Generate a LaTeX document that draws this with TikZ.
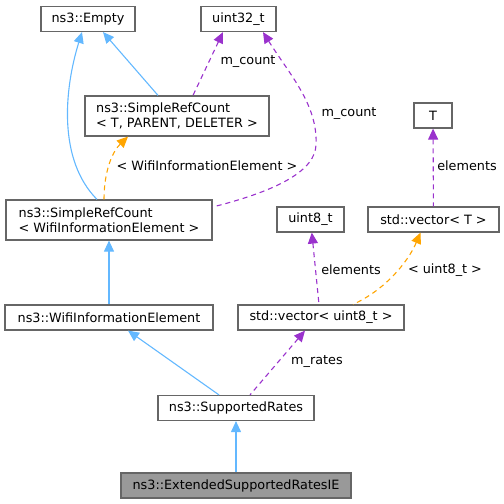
\documentclass[tikz,border=0pt]{standalone}
\usepackage{fontspec}
\setmainfont{DejaVu Sans}
\usetikzlibrary{arrows.meta}
\definecolor{inhblue}{HTML}{63B8FF}
\definecolor{usepurple}{HTML}{9A32CD}
\definecolor{tmplorange}{HTML}{FFA500}
\definecolor{boxgray}{HTML}{666666}
\definecolor{focusgray}{HTML}{999999}

\begin{document}
\begin{tikzpicture}[x=1pt,y=-1pt,
  every node/.style={font=\fontsize{12.8}{15}\selectfont},
  cls/.style={draw=boxgray,fill=white,line width=1.2pt,inner sep=0pt,minimum height=25pt,align=left},
  tip/.style={<-,>={Triangle[length=11pt,width=10pt]}},
  inherit/.style={tip,inhblue,line width=1.1pt},
  member/.style={tip,usepurple,line width=1.1pt,dash pattern=on 5pt off 4pt},
  tmpl/.style={tip,tmplorange,line width=1.1pt,dash pattern=on 5pt off 4pt},
  lbl/.style={text=black}]
\useasboundingbox (0,0) rectangle (504,504);
% classes
\node[cls,minimum width=94pt] (empty) at (88,19) {ns3::Empty};
\node[cls,minimum width=75pt] (uintb) at (238.5,19) {uint32\_t};
\node[cls,minimum width=184pt,minimum height=40pt] (srctpd) at (177,116) {ns3::SimpleRefCount\\< T, PARENT, DELETER >};
\node[cls,minimum width=38pt] (tnode) at (433,115.5) {T};
\node[cls,minimum width=206pt,minimum height=40pt] (srcwie) at (109,220) {ns3::SimpleRefCount\\< WifiInformationElement >};
\node[cls,minimum width=67pt] (uinteight) at (310.5,219.5) {uint8\_t};
\node[cls,minimum width=131pt] (vect) at (433.5,219.5) {std::vector< T >};
\node[cls,minimum width=208pt] (wie) at (109,317.5) {ns3::WifiInformationElement};
\node[cls,minimum width=166pt] (vecu) at (321,317.5) {std::vector< uint8\_t >};
\node[cls,minimum width=156pt] (rates) at (236,408) {ns3::SupportedRates};
\node[cls,minimum width=230pt,fill=focusgray] (esr) at (236,485.5) {ns3::ExtendedSupportedRatesIE};
% edges
\draw[inherit] (rates) -- (esr);
\draw[inherit] ([xshift=19pt]wie.south) -- ([xshift=-17pt]rates.north);
\draw[member] ([xshift=-16pt]vecu.south) -- ([xshift=14pt]rates.north);
\draw[inherit] (srcwie) -- (wie);
\draw[member] (uinteight) -- ([xshift=-2pt]vecu.north);
\draw[tmpl] ([xshift=-13pt]vect.south) .. controls (408,262) and (385,290) .. ([xshift=32pt]vecu.north);
\draw[member] (tnode) -- (vect);
\draw[tmpl] ([xshift=-49pt]srctpd.south) .. controls (112,152) and (104,172) .. ([xshift=-5pt]srcwie.north);
\draw[inherit] ([xshift=-6pt]empty.south) .. controls (64,90) and (58,160) .. ([xshift=-12pt]srcwie.north);
\draw[inherit] ([xshift=15pt]empty.south) -- ([xshift=-19pt]srctpd.north);
\draw[member] ([xshift=-15.5pt]uintb.south) -- ([xshift=16pt]srctpd.north);
\draw[member] ([xshift=24.5pt]uintb.south) .. controls (290,75) and (318,105) .. (316,145)
  .. controls (315,170) and (280,190) .. ([yshift=13pt]srcwie.east);
% labels
\node[lbl] at (248,62) {m\_count};
\node[lbl] at (349,114) {m\_count};
\node[lbl] at (207,166) {< WifiInformationElement >};
\node[lbl] at (467,166) {elements};
\node[lbl] at (351,270) {elements};
\node[lbl] at (445,270) {< uint8\_t >};
\node[lbl] at (317,362) {m\_rates};
\end{tikzpicture}
\end{document}
